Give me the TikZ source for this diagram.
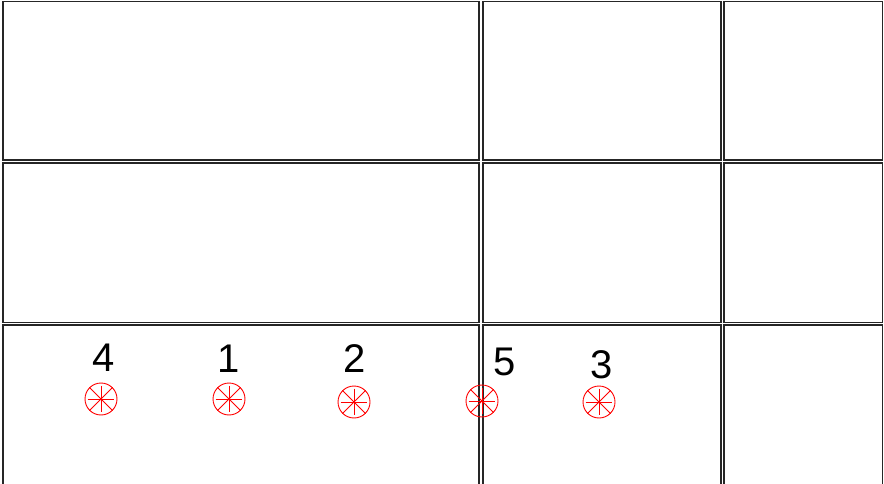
\documentclass[tikz,border=0pt]{standalone}
\usepackage{fontspec}
\setmainfont{Liberation Sans}
\begin{document}
\begin{tikzpicture}[x=1pt,y=-1pt,
  cell/.style={draw=black!85, line width=1.1pt},
  tgt/.style={circle, draw=red, line width=0.9pt, minimum size=32pt, inner sep=0pt},
  spoke/.style={red, line width=0.9pt},
  lbl/.style={font=\fontsize{40}{40}\selectfont, inner sep=0pt, text=black}]
\useasboundingbox (0,0) rectangle (884,484);
\clip (0,0) rectangle (884,484);
% row 1
\draw[cell] (3,1.5) rectangle (479,160);
\draw[cell] (483,1.5) rectangle (721,160);
\draw[cell] (724,1.5) rectangle (882.5,160);
% row 2
\draw[cell] (3,163) rectangle (479,322.5);
\draw[cell] (483,163) rectangle (721,322.5);
\draw[cell] (724,163) rectangle (882.5,322.5);
% row 3
\draw[cell] (3,325) rectangle (479,500);
\draw[cell] (483,325) rectangle (721,500);
\draw[cell] (724,325) rectangle (882.5,500);
% targets
\foreach \n/\x/\y in {4/101/399, 1/229/399, 2/354/402, 5/482/401, 3/599/402} {
  \node[tgt] (c\n) at (\x,\y) {};
  \draw[spoke] (c\n.45) -- (c\n.225);
  \draw[spoke] (c\n.135) -- (c\n.315);
  \draw[spoke, shorten >=3pt, shorten <=3pt] (c\n.north) -- (c\n.south);
  \draw[spoke, shorten >=3pt, shorten <=3pt] (c\n.west) -- (c\n.east);
}
% labels
\node[lbl] (l4) at (104,357.5) {4};
\node[lbl] (l1) at (229,359) {1};
\node[lbl] (l2) at (354.5,358.5) {2};
\node[lbl] (l5) at (505,361.5) {5};
\node[lbl] (l3) at (602,365) {3};
\end{tikzpicture}
\end{document}
